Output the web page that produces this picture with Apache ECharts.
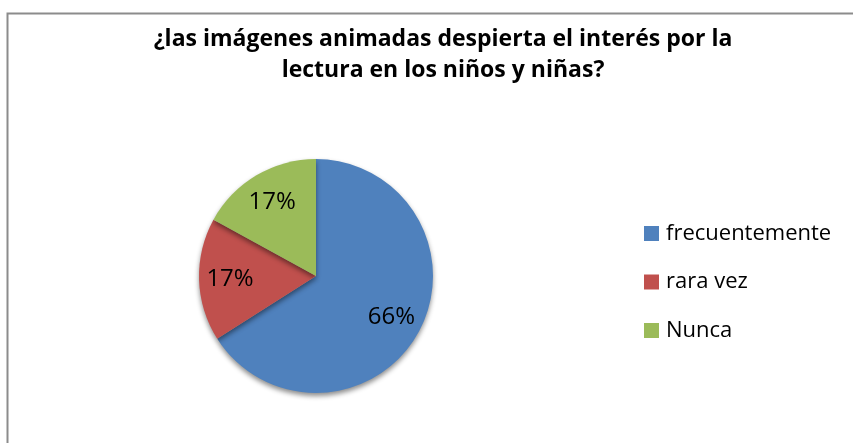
<!DOCTYPE html>
<html><head><meta charset="utf-8">
<script src="https://cdn.jsdelivr.net/npm/echarts@6/dist/echarts.min.js"></script>
<style>html,body{margin:0;padding:0;background:#fff}#c{width:853px;height:443px}</style>
</head><body><div id="c"></div>
<script>
const titleText = '¿las imágenes animadas despierta el interés por la\nlectura en los niños y niñas?';
const categories = ['frecuentemente', 'rara vez', 'Nunca'];
const values = [66, 17, 17];
const colors = ['#4F81BD', '#C0504D', '#9BBB59'];
const FONT = 'Open Sans';

const chart = echarts.init(document.getElementById('c'));
const data = categories.map((n, i) => ({ name: n, value: values[i], itemStyle: { color: colors[i] } }));
chart.setOption({
  animation: false,
  title: {
    text: titleText, left: 438, top: 19, textAlign: 'center',
    textStyle: { fontFamily: FONT, fontWeight: 'bold', fontSize: 23, lineHeight: 31, color: '#000' }
  },
  legend: {
    orient: 'vertical', left: 639, top: 216, itemWidth: 15, itemHeight: 15, itemGap: 23.5,
    icon: 'rect', data: categories,
    textStyle: { fontFamily: FONT, fontSize: 22, lineHeight: 25, color: '#000', padding: [0, 0, 0, 2] }
  },
  graphic: [{ type: 'rect', shape: { x: 7.5, y: 13.5, width: 900, height: 500 }, style: { fill: 'none', stroke: '#8c8c8c', lineWidth: 2 }, silent: true }],
  series: [
    {
      type: 'pie', center: [316, 276], radius: 117, startAngle: 90, clockwise: true,
      data: data, label: { show: false }, labelLine: { show: false },
      itemStyle: { shadowBlur: 5, shadowOffsetY: 3, shadowColor: 'rgba(0,0,0,0.45)' },
      emphasis: { disabled: true }
    },
    {
      type: 'pie', center: [316, 276], radius: 166, startAngle: 90, clockwise: true, silent: true,
      data: data.map(d => ({ name: d.name, value: d.value, itemStyle: { color: 'rgba(0,0,0,0)' } })),
      label: { show: true, position: 'inside', formatter: p => Math.round(p.value) + '%', fontFamily: FONT, fontSize: 24, color: '#000' },
      labelLine: { show: false }, emphasis: { disabled: true }
    }
  ]
});
</script></body></html>
